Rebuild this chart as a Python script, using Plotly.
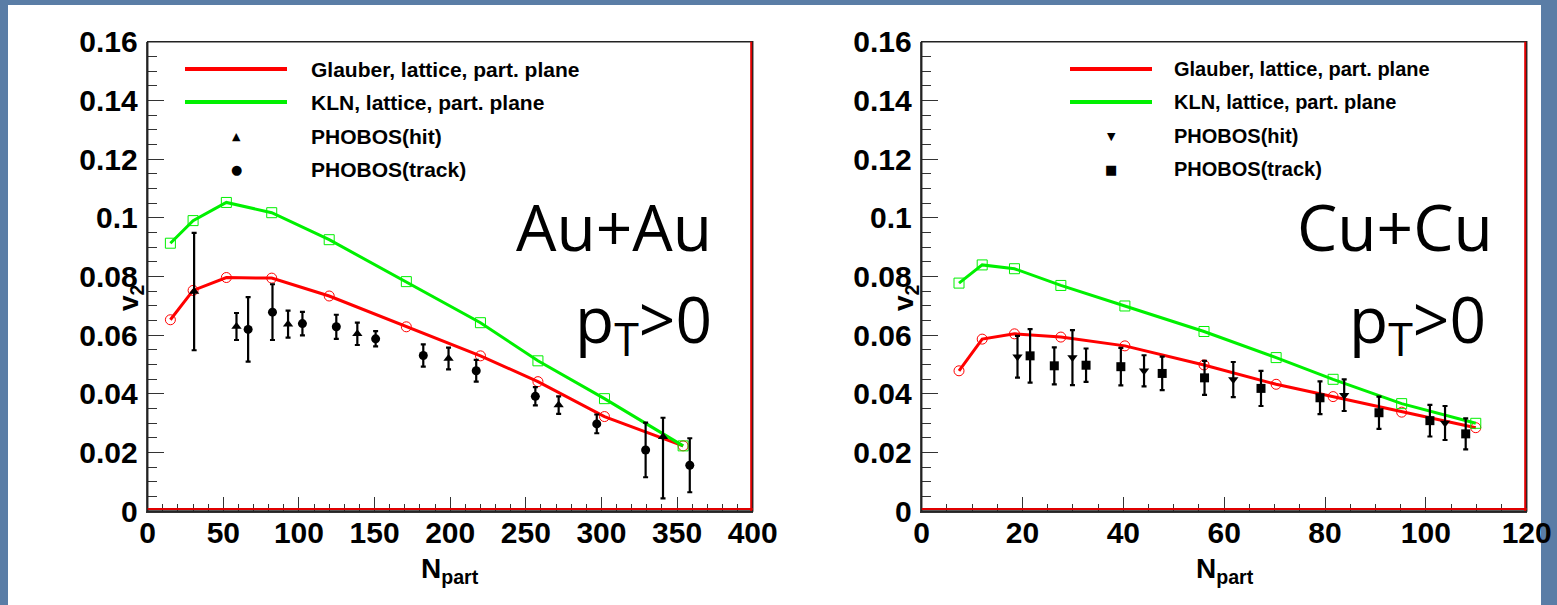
import plotly.graph_objects as go

# ---------------- data ----------------
# Au+Au theory curves
au_theory_npart = [15, 30, 52, 82, 120, 171, 220, 258, 302, 354]
au_glauber_v2 = [0.0652, 0.0752, 0.0796, 0.0794, 0.0733, 0.0628, 0.0529, 0.0441, 0.0322, 0.0222]
au_kln_v2 = [0.0913, 0.0990, 0.1052, 0.1017, 0.0925, 0.0782, 0.0642, 0.0512, 0.0383, 0.0222]
# Au+Au PHOBOS(hit)
au_hit_npart = [30.7, 58.7, 92.8, 138.6, 198.9, 271.7, 340.7]
au_hit_v2 = [0.0748, 0.0629, 0.0637, 0.0604, 0.0520, 0.0361, 0.0253]
au_hit_err_up = [0.0200, 0.0046, 0.0046, 0.0038, 0.0037, 0.0030, 0.0065]
au_hit_err_down = [0.0200, 0.0046, 0.0046, 0.0038, 0.0037, 0.0030, 0.0210]
# Au+Au PHOBOS(track)
au_track_npart = [66.4, 82.5, 102.3, 124.7, 150.7, 182.2, 217.2, 256.3, 296.9, 329.2, 358.4]
au_track_v2 = [0.0619, 0.0678, 0.0639, 0.0628, 0.0587, 0.0530, 0.0478, 0.0391, 0.0297, 0.0208, 0.0156]
au_track_err = [0.0110, 0.0095, 0.0040, 0.0041, 0.0026, 0.0038, 0.0037, 0.0031, 0.0032, 0.0093, 0.0092]

# Cu+Cu theory curves
cu_theory_npart = [7.4, 12.0, 18.4, 27.6, 40.3, 56.0, 70.3, 81.6, 95.2, 109.9]
cu_glauber_v2 = [0.0478, 0.0586, 0.0604, 0.0593, 0.0563, 0.0498, 0.0432, 0.0390, 0.0337, 0.0284]
cu_kln_v2 = [0.0777, 0.0839, 0.0826, 0.0769, 0.0699, 0.0612, 0.0523, 0.0449, 0.0366, 0.0299]
# Cu+Cu PHOBOS(hit)
cu_hit_npart = [19.0, 29.9, 44.1, 61.8, 83.8, 103.8]
cu_hit_v2 = [0.0526, 0.0523, 0.0478, 0.0448, 0.0395, 0.0300]
cu_hit_err = [0.0071, 0.0094, 0.0053, 0.0060, 0.0054, 0.0058]
# Cu+Cu PHOBOS(track)
cu_track_npart = [21.5, 26.3, 32.6, 39.5, 47.7, 56.1, 67.3, 79.0, 90.7, 100.8, 107.9]
cu_track_v2 = [0.0529, 0.0495, 0.0497, 0.0492, 0.0469, 0.0454, 0.0418, 0.0386, 0.0335, 0.0308, 0.0263]
cu_track_err = [0.0091, 0.0063, 0.0057, 0.0064, 0.0057, 0.0058, 0.0060, 0.0056, 0.0055, 0.0054, 0.0053]

# axis ticks
y_tickvals = [0, 0.02, 0.04, 0.06, 0.08, 0.10, 0.12, 0.14, 0.16]
y_ticktext = ["0", "0.02", "0.04", "0.06", "0.08", "0.1", "0.12", "0.14", "0.16"]
au_x_tickvals = [0, 50, 100, 150, 200, 250, 300, 350, 400]
cu_x_tickvals = [0, 20, 40, 60, 80, 100, 120]

legend_labels = ["Glauber, lattice, part. plane", "KLN, lattice, part. plane",
                 "PHOBOS(hit)", "PHOBOS(track)"]
system_labels = ["Au+Au", "Cu+Cu"]
cut_label = "p<sub>T</sub>>0"

# ---------------- styling ----------------
W, H = 1557, 605
RED = "#ff0000"
GREEN = "#00f000"
BLUE_BG = "#5a7da6"
TICK_FONT = dict(family="Liberation Sans, Arial", size=30, color="black", weight="bold")


def px(xp):
    return xp / W


def py(yp):
    return 1 - yp / H


fig = go.Figure()


def add_panel(xa, ya, npart, glauber, kln, hit_x, hit_y, hit_up, hit_dn, trk_x, trk_y, trk_err,
              hit_symbol, trk_symbol, trk_size):
    fig.add_trace(go.Scatter(x=npart, y=glauber, mode="lines+markers", xaxis=xa, yaxis=ya,
                             line=dict(color=RED, width=3),
                             marker=dict(symbol="circle-open", size=10, color=RED, line=dict(width=1, color=RED)),
                             showlegend=False))
    fig.add_trace(go.Scatter(x=npart, y=kln, mode="lines+markers", xaxis=xa, yaxis=ya,
                             line=dict(color=GREEN, width=3),
                             marker=dict(symbol="square-open", size=10, color=GREEN, line=dict(width=1, color=GREEN)),
                             showlegend=False))
    fig.add_trace(go.Scatter(x=hit_x, y=hit_y, mode="markers", xaxis=xa, yaxis=ya,
                             marker=dict(symbol=hit_symbol, size=9, color="black"),
                             error_y=dict(type="data", symmetric=False, array=hit_up, arrayminus=hit_dn,
                                          thickness=2.2, width=2.5, color="black"),
                             showlegend=False))
    fig.add_trace(go.Scatter(x=trk_x, y=trk_y, mode="markers", xaxis=xa, yaxis=ya,
                             marker=dict(symbol=trk_symbol, size=trk_size, color="black"),
                             error_y=dict(type="data", array=trk_err, thickness=2.2, width=2.5, color="black"),
                             showlegend=False))


add_panel("x", "y", au_theory_npart, au_glauber_v2, au_kln_v2,
          au_hit_npart, au_hit_v2, au_hit_err_up, au_hit_err_down,
          au_track_npart, au_track_v2, au_track_err, "triangle-up", "circle", 9)
add_panel("x2", "y2", cu_theory_npart, cu_glauber_v2, cu_kln_v2,
          cu_hit_npart, cu_hit_v2, cu_hit_err, cu_hit_err,
          cu_track_npart, cu_track_v2, cu_track_err, "triangle-down", "square", 9)

ydom = [py(511), py(41.7)]
common_y = dict(range=[0, 0.16], tickvals=y_tickvals, ticktext=y_ticktext, ticks="inside",
                ticklen=16, tickwidth=1.2, tickcolor="#333", showline=True, linecolor="#444",
                linewidth=2, showgrid=False, zeroline=False, tickfont=TICK_FONT, domain=ydom,
                automargin=False, ticklabelstandoff=2,
                minor=dict(dtick=0.005, tick0=0, ticks="inside", ticklen=9, tickwidth=1.2,
                           tickcolor="#333", showgrid=False))
common_x = dict(ticks="inside", ticklen=14, tickwidth=1.2, tickcolor="#333", showline=True,
                linecolor="#333", linewidth=2, showgrid=False, zeroline=False, tickfont=TICK_FONT,
                ticklabelstandoff=-6, automargin=False)

fig.update_layout(
    template="none",
    width=W, height=H,
    margin=dict(l=0, r=0, t=0, b=0, pad=0, autoexpand=False),
    paper_bgcolor=BLUE_BG,
    plot_bgcolor="rgba(0,0,0,0)",
    showlegend=False,
    xaxis=dict(common_x, range=[0, 400], tickvals=au_x_tickvals, domain=[px(147.7), px(752.7)],
               anchor="y",
               minor=dict(dtick=10, tick0=0, ticks="inside", ticklen=7, tickwidth=1.2,
                          tickcolor="#333", showgrid=False)),
    yaxis=dict(common_y, anchor="x"),
    xaxis2=dict(common_x, range=[0, 120], tickvals=cu_x_tickvals, domain=[px(921.7), px(1526.7)],
                anchor="y2",
                minor=dict(dtick=5, tick0=0, ticks="inside", ticklen=7, tickwidth=1.2,
                           tickcolor="#333", showgrid=False)),
    yaxis2=dict(common_y, anchor="x2"),
)

shapes = []
# white slide panel
shapes.append(dict(type="rect", xref="paper", yref="paper", x0=px(8), x1=px(1541), y0=0, y1=py(5),
                   fillcolor="white", line=dict(width=0), layer="below"))
for xa, ya, xmax in (("x", "y", 400), ("x2", "y2", 120)):
    # frame (top & right in dark)
    shapes.append(dict(type="rect", xref=f"{xa} domain", yref=f"{ya} domain", x0=0, x1=1, y0=0, y1=1,
                       line=dict(color="#222", width=1.5), layer="above"))
    # red frame inner lines (right & bottom)
    shapes.append(dict(type="line", xref=xa, yref=f"{ya} domain", xsizemode="pixel", xanchor=xmax,
                       x0=-1.5, x1=-1.5, y0=0, y1=1, line=dict(color="#e00000", width=2), layer="above"))
    shapes.append(dict(type="line", xref=f"{xa} domain", yref=ya, ysizemode="pixel", yanchor=0,
                       x0=0, x1=1, y0=2, y1=2, line=dict(color="#e00000", width=2), layer="above"))

# legend line samples
legend_geo = [  # (line x0, line x1, marker x, text x, font size)
    (185, 287, 236, 309, 21),
    (1070, 1152, 1111, 1172, 20),
]
legend_rows = [69, 102, 136, 169]
annotations = []
marker_glyphs = [("▲", "●"), ("▼", "■")]
for (lx0, lx1, mx, tx, fs), glyphs in zip(legend_geo, marker_glyphs):
    for color, row in ((RED, legend_rows[0]), (GREEN, legend_rows[1])):
        shapes.append(dict(type="line", xref="paper", yref="paper", x0=px(lx0), x1=px(lx1),
                           y0=py(row), y1=py(row), line=dict(color=color, width=4)))
    for g, row, sz in zip(glyphs, legend_rows[2:], (11, 13)):
        annotations.append(dict(xref="paper", yref="paper", x=px(mx), y=py(row), text=g,
                                showarrow=False, xanchor="center", yanchor="middle",
                                font=dict(family="DejaVu Sans", size=sz, color="black")))
    for lab, row in zip(legend_labels, legend_rows):
        annotations.append(dict(xref="paper", yref="paper", x=px(tx), y=py(row), text=lab,
                                showarrow=False, xanchor="left", yanchor="middle",
                                font=dict(family="Liberation Sans, Arial", size=fs, color="black",
                                          weight="bold")))

# big labels
BIG = dict(family="Open Sans", size=64, color="black")
for lab, xr1, xr2 in zip(system_labels, (714, 1495), (714, 1488)):
    annotations.append(dict(xref="paper", yref="paper", x=px(xr1), y=py(226), text=lab,
                            showarrow=False, xanchor="right", yanchor="middle", font=BIG))
    annotations.append(dict(xref="paper", yref="paper", x=px(xr2), y=py(322), text=cut_label,
                            showarrow=False, xanchor="right", yanchor="middle", font=BIG))

# axis titles
TITLE_FONT = dict(family="Liberation Sans, Arial", size=28, color="black", weight="bold")
for vx, nx in ((130, 450), (905, 1225)):
    annotations.append(dict(xref="paper", yref="paper", x=px(vx), y=py(298), text="v<sub>2</sub>",
                            textangle=-90, showarrow=False, xanchor="center", yanchor="middle",
                            font=TITLE_FONT))
    annotations.append(dict(xref="paper", yref="paper", x=px(nx), y=py(570), text="N<sub>part</sub>",
                            showarrow=False, xanchor="center", yanchor="middle", font=TITLE_FONT))

fig.update_layout(shapes=shapes, annotations=annotations)
fig.write_html("out.html")
